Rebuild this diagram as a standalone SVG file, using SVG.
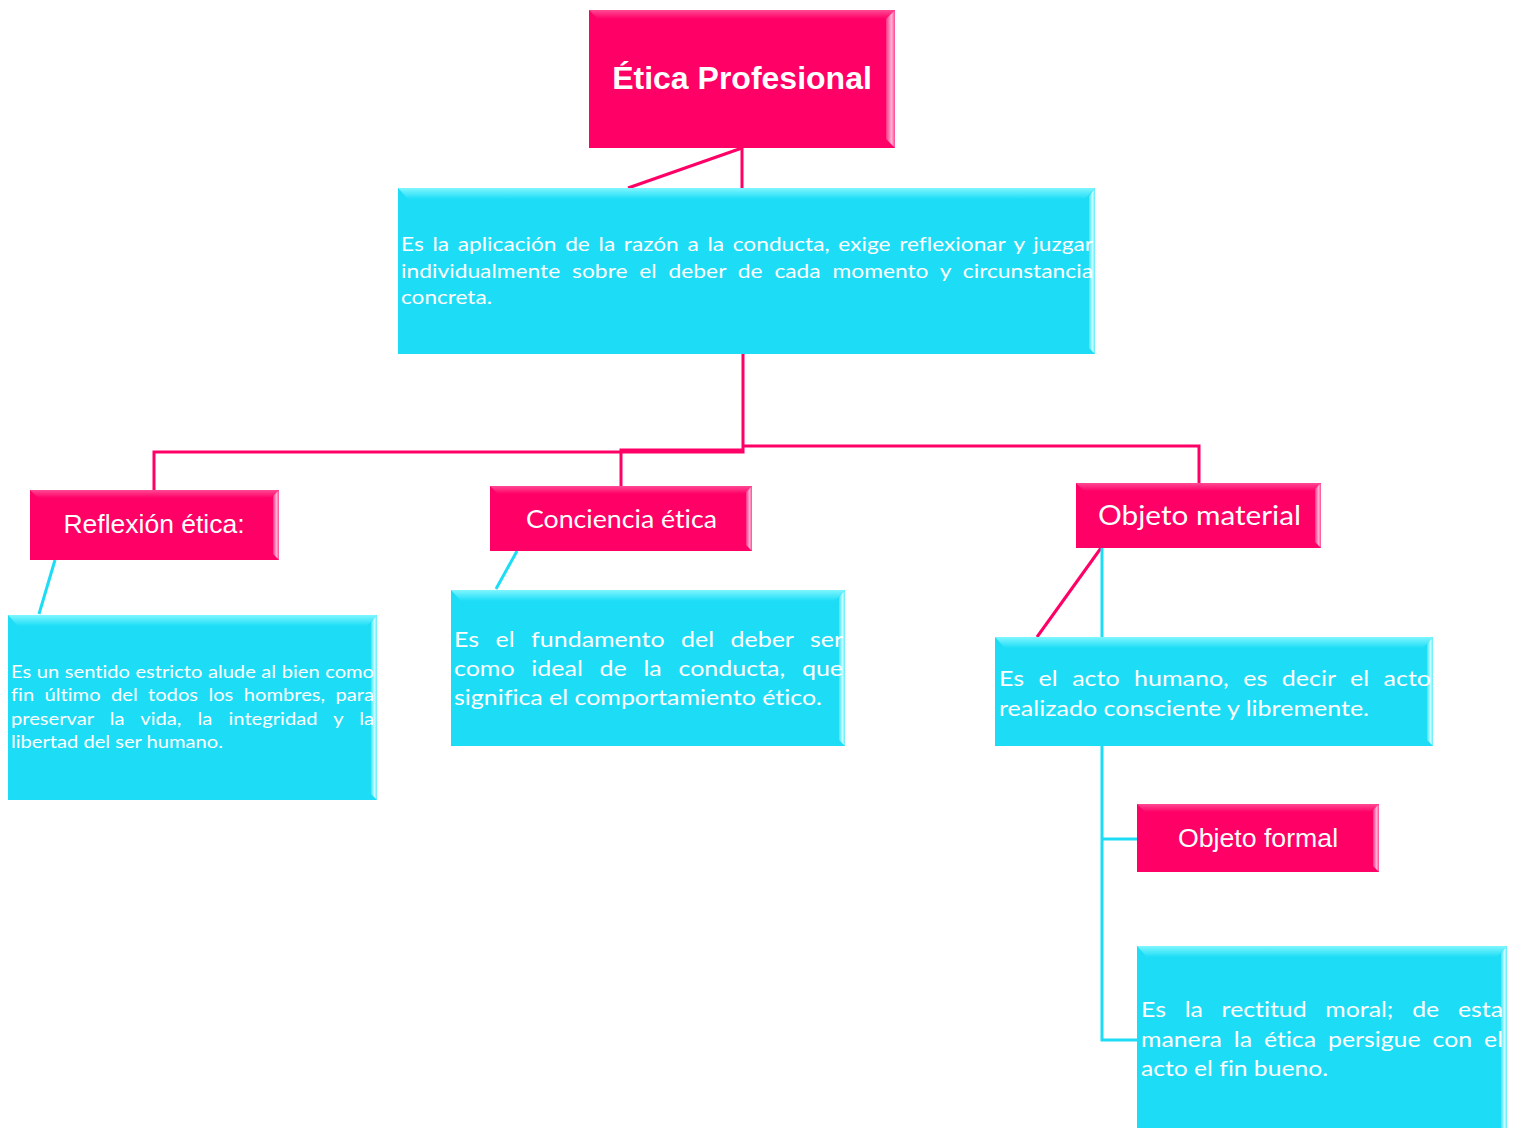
<svg xmlns="http://www.w3.org/2000/svg" width="1521" height="1128" viewBox="0 0 1521 1128">
<defs>
<linearGradient id="pt" x1="0" y1="0" x2="0" y2="1"><stop offset="0" stop-color="#FF4A94"/><stop offset="1" stop-color="#FF0066"/></linearGradient>
<linearGradient id="pr" x1="0" y1="0" x2="1" y2="0"><stop offset="0" stop-color="#FF3385"/><stop offset="0.6" stop-color="#FFB3D4"/><stop offset="1" stop-color="#FF4A94"/></linearGradient>
<linearGradient id="ct" x1="0" y1="0" x2="0" y2="1"><stop offset="0" stop-color="#7FF6FF"/><stop offset="1" stop-color="#1DDDF6"/></linearGradient>
<linearGradient id="cr" x1="0" y1="0" x2="1" y2="0"><stop offset="0" stop-color="#3FE6FA"/><stop offset="0.6" stop-color="#C8FCFF"/><stop offset="1" stop-color="#5CEEFC"/></linearGradient>
</defs>
<style>
.pk{fill:#FF0066}
.cy{fill:#1DDDF6}
.lp{stroke:#FF0066;stroke-width:3;fill:none}
.lc{stroke:#1DDDF6;stroke-width:3;fill:none}
.ar{font-family:"Liberation Sans",Arial,sans-serif;fill:#fff}
.ca{font-family:Lato,"Open Sans",sans-serif;fill:#fff;font-variant-ligatures:none}
</style>
<g id="connectors">
<line class="lp" x1="742" y1="148" x2="742" y2="188"/>
<line class="lp" x1="742" y1="148" x2="628" y2="188"/>
<polyline class="lp" points="743,354 743,452 154,452 154,490"/>
<polyline class="lp" points="621,486 621,450 743,450"/>
<polyline class="lp" points="743,446 1199,446 1199,483"/>
<line class="lc" x1="55" y1="560" x2="39" y2="614"/>
<line class="lc" x1="517" y1="551" x2="496" y2="589"/>
<line class="lp" x1="1101" y1="548" x2="1037" y2="637"/>
<line class="lc" x1="1102" y1="548" x2="1102" y2="637"/>
<polyline class="lc" points="1102,746 1102,1040 1140,1040"/>
<line class="lc" x1="1102" y1="839" x2="1137" y2="839"/>
</g>
<g id="n-etica">
<rect class="pk" x="589" y="10" width="306" height="138"/>
<polygon fill="url(#pt)" points="589,10 895,10 886,19 598,19"/>
<polygon fill="url(#pr)" points="895,10 895,148 886,139 886,19"/>
<text class="ar" x="742" y="89" font-size="32" font-weight="bold" text-anchor="middle">Ética Profesional</text>
</g>
<g id="n-def">
<rect class="cy" x="398" y="188" width="697" height="166"/>
<polygon fill="url(#ct)" points="398,188 1095,188 1085,199 408,199"/>
<polygon fill="url(#cr)" points="1095,188 1095,354 1089,348 1089,196"/>
<text class="ca" font-size="19"><tspan x="401" y="251" word-spacing="2.4" textLength="692" lengthAdjust="spacingAndGlyphs">Es la aplicación de la razón a la conducta, exige reflexionar y juzgar</tspan><tspan x="401" y="278" word-spacing="5" textLength="692" lengthAdjust="spacingAndGlyphs">individualmente sobre el deber de cada momento y circunstancia</tspan><tspan x="401" y="304" word-spacing="0" textLength="91" lengthAdjust="spacingAndGlyphs">concreta.</tspan></text>
</g>
<g id="n-reflexion">
<rect class="pk" x="30" y="490" width="249" height="70"/>
<polygon fill="url(#pt)" points="30,490 279,490 271,498 38,498"/>
<polygon fill="url(#pr)" points="279,490 279,560 273,554 273,496"/>
<text class="ar" x="154" y="533" font-size="26.5" text-anchor="middle">Reflexión ética:</text>
</g>
<g id="n-reflexion-def">
<rect class="cy" x="8" y="615" width="369" height="185"/>
<polygon fill="url(#ct)" points="8,615 377,615 367,626 18,626"/>
<polygon fill="url(#cr)" points="377,615 377,800 371,794 371,622"/>
<text class="ca" font-size="17"><tspan x="11" y="678" word-spacing="0.4" textLength="363" lengthAdjust="spacingAndGlyphs">Es un sentido estricto alude al bien como</tspan><tspan x="11" y="701" word-spacing="4.4" textLength="363" lengthAdjust="spacingAndGlyphs">fin último del todos los hombres, para</tspan><tspan x="11" y="725" word-spacing="9.3" textLength="363" lengthAdjust="spacingAndGlyphs">preservar la vida, la integridad y la</tspan><tspan x="11" y="748" word-spacing="0" textLength="212" lengthAdjust="spacingAndGlyphs">libertad del ser humano.</tspan></text>
</g>
<g id="n-conciencia">
<rect class="pk" x="490" y="486" width="262" height="65"/>
<polygon fill="url(#pt)" points="490,486 752,486 744,494 498,494"/>
<polygon fill="url(#pr)" points="752,486 752,551 746,545 746,492"/>
<text class="ca" x="526" y="528" font-size="25" textLength="191" lengthAdjust="spacingAndGlyphs">Conciencia ética</text>
</g>
<g id="n-conciencia-def">
<rect class="cy" x="451" y="590" width="394" height="156"/>
<polygon fill="url(#ct)" points="451,590 845,590 835,601 461,601"/>
<polygon fill="url(#cr)" points="845,590 845,746 839,740 839,597"/>
<text class="ca" font-size="22"><tspan x="454" y="647" word-spacing="8.9" textLength="389" lengthAdjust="spacingAndGlyphs">Es el fundamento del deber ser</tspan><tspan x="454" y="676" word-spacing="9.1" textLength="389" lengthAdjust="spacingAndGlyphs">como ideal de la conducta, que</tspan><tspan x="454" y="705" word-spacing="0" textLength="368" lengthAdjust="spacingAndGlyphs">significa el comportamiento ético.</tspan></text>
</g>
<g id="n-material">
<rect class="pk" x="1076" y="483" width="245" height="65"/>
<polygon fill="url(#pt)" points="1076,483 1321,483 1313,491 1084,491"/>
<polygon fill="url(#pr)" points="1321,483 1321,548 1315,542 1315,489"/>
<text class="ca" x="1098" y="525" font-size="27" textLength="203" lengthAdjust="spacingAndGlyphs">Objeto material</text>
</g>
<g id="n-material-def">
<rect class="cy" x="995" y="637" width="438" height="109"/>
<polygon fill="url(#ct)" points="995,637 1433,637 1423,648 1005,648"/>
<polygon fill="url(#cr)" points="1433,637 1433,746 1427,740 1427,644"/>
<text class="ca" font-size="22"><tspan x="999" y="686" word-spacing="7.1" textLength="432" lengthAdjust="spacingAndGlyphs">Es el acto humano, es decir el acto</tspan><tspan x="999" y="716" word-spacing="0" textLength="370" lengthAdjust="spacingAndGlyphs">realizado consciente y libremente.</tspan></text>
</g>
<g id="n-formal">
<rect class="pk" x="1137" y="804" width="242" height="68"/>
<polygon fill="url(#pt)" points="1137,804 1379,804 1371,812 1145,812"/>
<polygon fill="url(#pr)" points="1379,804 1379,872 1373,866 1373,810"/>
<text class="ar" x="1258" y="847" font-size="26.7" text-anchor="middle">Objeto formal</text>
</g>
<g id="n-formal-def">
<rect class="cy" x="1137" y="946" width="370" height="182"/>
<polygon fill="url(#ct)" points="1137,946 1507,946 1497,957 1147,957"/>
<polygon fill="url(#cr)" points="1507,946 1507,1128 1501,1128 1501,953"/>
<text class="ca" font-size="22"><tspan x="1141" y="1017" word-spacing="11" textLength="362" lengthAdjust="spacingAndGlyphs">Es la rectitud moral; de esta</tspan><tspan x="1141" y="1047" word-spacing="5" textLength="362" lengthAdjust="spacingAndGlyphs">manera la ética persigue con el</tspan><tspan x="1141" y="1076" word-spacing="0" textLength="187" lengthAdjust="spacingAndGlyphs">acto el fin bueno.</tspan></text>
</g>
</svg>
